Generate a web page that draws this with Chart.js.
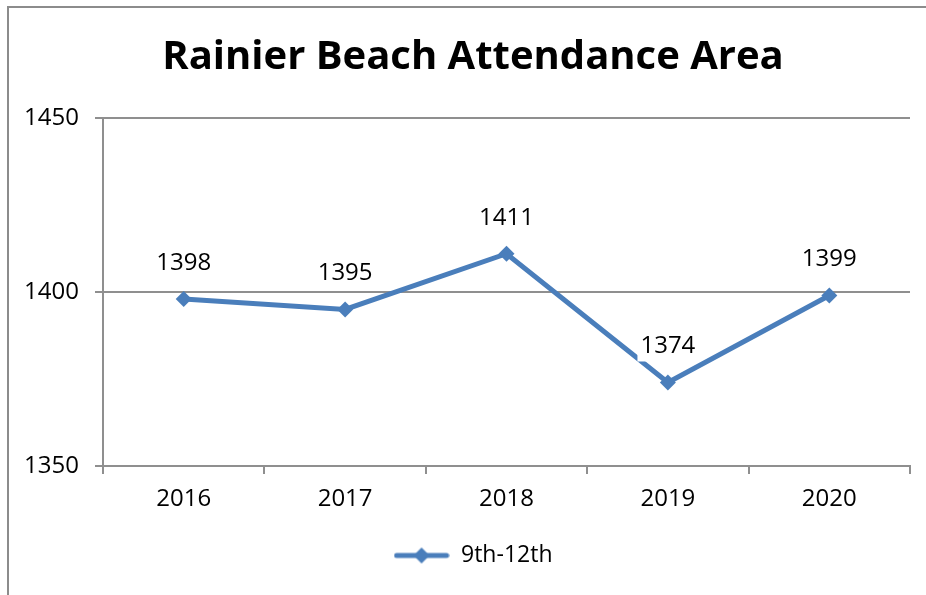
<!DOCTYPE html>
<html>
<head>
<meta charset="utf-8">
<script src="https://cdn.jsdelivr.net/npm/chart.js@4.4.0/dist/chart.umd.min.js"></script>
<style>
  html, body { margin: 0; padding: 0; background: #fff; }
  #frame {
    position: absolute; left: 7px; top: 6px; width: 940px; height: 620px;
    border-left: 2px solid #8c8c8c; border-top: 2px solid #8c8c8c;
  }
  #wrap { position: absolute; left: 0; top: 0; width: 926px; height: 595px; }
</style>
</head>
<body>
<div id="frame"></div>
<div id="wrap"><canvas id="chart" width="926" height="595"></canvas></div>
<script>
// chart data
const years = ['2016', '2017', '2018', '2019', '2020'];
const students = [1398, 1395, 1411, 1374, 1399];
const seriesName = '9th-12th';
const titleText = 'Rainier Beach Attendance Area';

const blue = '#4A7EBB';
const gridGrey = '#8f8f8f';
const font = "'Open Sans', 'Noto Sans', sans-serif";

// legend marker: line with a diamond in the middle
const marker = document.createElement('canvas');
marker.width = 56; marker.height = 18;
{
    const m = marker.getContext('2d');
    m.strokeStyle = blue;
    m.lineWidth = 5;
    m.lineCap = 'round';
    m.beginPath(); m.moveTo(3, 9); m.lineTo(53, 9); m.stroke();
    m.fillStyle = blue;
    m.beginPath(); m.moveTo(28, 1); m.lineTo(36, 9); m.lineTo(28, 17); m.lineTo(20, 9); m.closePath(); m.fill();
}

// value labels above each point, on a white box
const valueLabels = {
    id: 'valueLabels',
    afterDatasetsDraw(chart) {
        const c = chart.ctx;
        const meta = chart.getDatasetMeta(0);
        c.save();
        c.font = '24px ' + font;
        c.textAlign = 'center';
        c.textBaseline = 'middle';
        meta.data.forEach((pt, i) => {
            const txt = String(chart.data.datasets[0].data[i]);
            const w = c.measureText(txt).width;
            const y = pt.y - 36;
            c.fillStyle = '#fff';
            c.fillRect(pt.x - w / 2 - 3, y - 15, w + 6, 30);
            c.fillStyle = '#000';
            c.fillText(txt, pt.x, y);
        });
        c.restore();
    }
};

// the original centres title and legend a bit to the right of the canvas middle
const nudgeBlocks = {
    id: 'nudgeBlocks',
    afterLayout(chart) {
        if (chart.titleBlock) chart.titleBlock.left += 36;
        if (chart.legend) chart.legend.left += 36;
    }
};

const ctx = document.getElementById('chart').getContext('2d');
const myChart = new Chart(ctx, {
    type: 'line',
    data: {
        labels: years,
        datasets: [{
            label: seriesName,
            data: students,
            borderColor: blue,
            backgroundColor: blue,
            borderWidth: 5,
            pointStyle: 'rectRot',
            pointRadius: 8,
            pointBackgroundColor: blue,
            pointBorderWidth: 0,
            tension: 0
        }]
    },
    options: {
        responsive: false,
        animation: false,
        layout: { padding: { left: 0, right: 16, top: 0, bottom: 18 } },
        plugins: {
            title: {
                display: true,
                text: titleText,
                color: '#000',
                font: { family: font, size: 40, weight: 'bold', lineHeight: 1.2 },
                padding: { top: 34, bottom: 36 }
            },
            legend: {
                position: 'bottom',
                labels: {
                    usePointStyle: true,
                    pointStyle: marker,
                    pointStyleWidth: 56,
                    color: '#000',
                    font: { family: font, size: 23 },
                    padding: 10
                }
            },
            tooltip: { enabled: false }
        },
        scales: {
            x: {
                offset: true,
                grid: { display: true, drawOnChartArea: false, drawTicks: true, tickLength: 8, color: gridGrey, lineWidth: 2, offset: true },
                border: { color: gridGrey, width: 2 },
                ticks: { color: '#000', font: { family: font, size: 24 }, padding: 11 },
                afterFit(scale) { scale.height = 68; }
            },
            y: {
                min: 1350,
                max: 1450,
                ticks: {
                    stepSize: 50, color: '#000', font: { family: font, size: 24 }, padding: 16,
                    callback: (v) => String(v)
                },
                grid: { color: gridGrey, lineWidth: 2, tickLength: 8 },
                border: { color: gridGrey, width: 2 },
                afterFit(scale) { scale.width = 103; }
            }
        }
    },
    plugins: [valueLabels, nudgeBlocks]
});
</script>
</body>
</html>
